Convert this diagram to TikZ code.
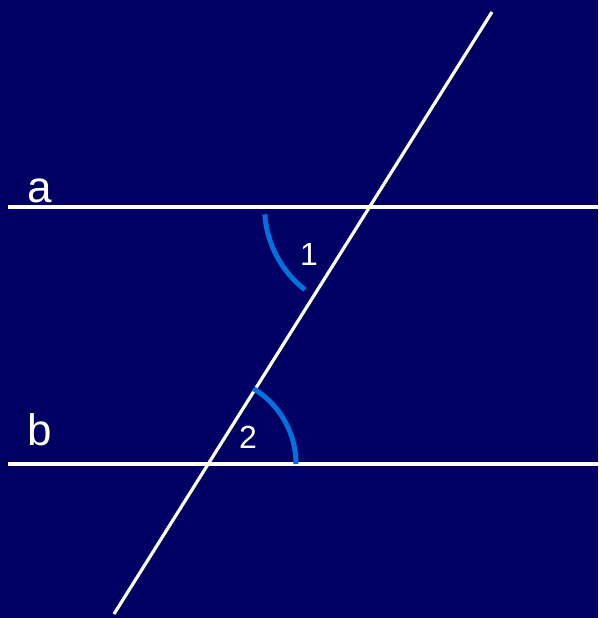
\documentclass[tikz,border=0pt]{standalone}
\usepackage{fontspec}
\setmainfont{Liberation Sans}
\usetikzlibrary{positioning,calc}
\definecolor{navybg}{RGB}{0,0,100}
\definecolor{anglecol}{RGB}{0,114,222}

\begin{document}
\begin{tikzpicture}[x=1pt,y=1pt,
  parline/.style={white,line width=3.2pt},
  anglearc/.style={anglecol,line width=5pt},
  letterlbl/.style={white,anchor=base,inner sep=0pt,font=\fontsize{44}{44}\selectfont},
  numlbl/.style={white,inner sep=0pt,font=\fontsize{32}{32}\selectfont}]
  % background
  \fill[navybg] (0,0) rectangle (598,618);
  \useasboundingbox (0,0) rectangle (598,618);
  % end points of the lines
  \coordinate (a1) at (8,411);
  \coordinate (a2) at (598,411);
  \coordinate (b1) at (8,154);
  \coordinate (b2) at (598,154);
  \coordinate (t1) at (114,4);
  \coordinate (t2) at (492,606);
  % crossing points
  \coordinate (A) at (369.5,411);
  \coordinate (B) at (208,154);
  \draw[parline] (a1) -- (a2);
  \draw[parline] (b1) -- (b2);
  \draw[parline] (t1) -- (t2);
  % angles
  \draw[anglearc] (A) ++(184:105) arc[start angle=184,end angle=232,radius=105];
  \draw[anglearc] (B) ++(0:88) arc[start angle=0,end angle=59,radius=88];
  % labels
  \node[letterlbl] (la) at (40,415) {a};
  \node[letterlbl] (lb) at (40,172) {b};
  \node[numlbl] (l1) at (309,364) {1};
  \node[numlbl] (l2) at (248,181) {2};
\end{tikzpicture}
\end{document}
